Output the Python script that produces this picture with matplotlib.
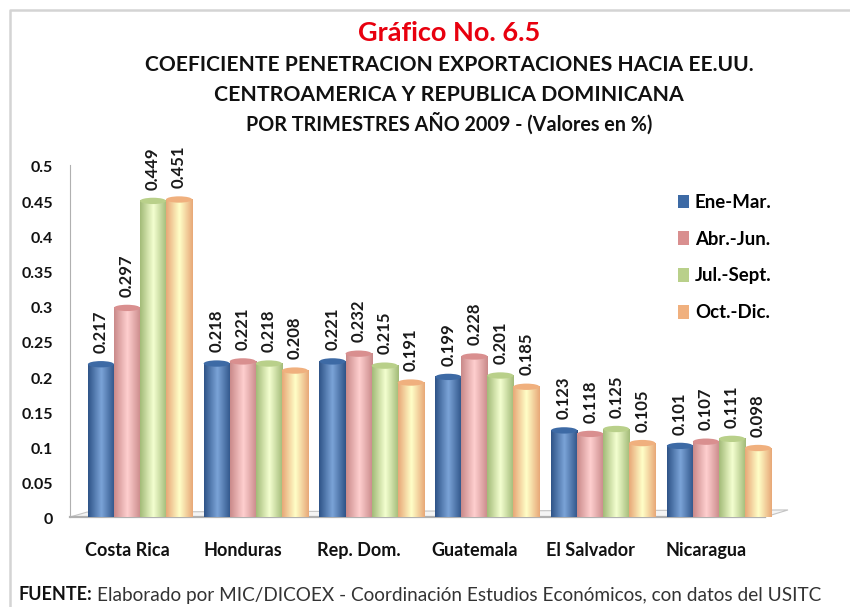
import numpy as np
import matplotlib
matplotlib.use("Agg")
import matplotlib.pyplot as plt
from matplotlib.colors import LinearSegmentedColormap
from matplotlib.lines import Line2D
from matplotlib.patches import Ellipse, Polygon, Rectangle
from matplotlib.transforms import ScaledTranslation

plt.rcParams['font.family'] = ['Lato', 'DejaVu Sans']

# === Datos ===
paises = ["Costa Rica", "Honduras", "Rep. Dom.", "Guatemala", "El Salvador", "Nicaragua"]
trimestres = ["Ene-Mar.", "Abr.-Jun.", "Jul.-Sept.", "Oct.-Dic."]
ene_mar = [0.217, 0.218, 0.221, 0.199, 0.123, 0.101]
abr_jun = [0.297, 0.221, 0.232, 0.228, 0.118, 0.107]
jul_sep = [0.449, 0.218, 0.215, 0.201, 0.125, 0.111]
oct_dic = [0.451, 0.208, 0.191, 0.185, 0.105, 0.098]
yticks = [0, 0.05, 0.1, 0.15, 0.2, 0.25, 0.3, 0.35, 0.4, 0.45, 0.5]
ytick_labels = ["0", "0.05", "0.1", "0.15", "0.2", "0.25", "0.3", "0.35", "0.4", "0.45", "0.5"]

series = [ene_mar, abr_jun, jul_sep, oct_dic]
# borde, centro, borde, tapa
colores = [
    ("#2f5488", "#7ba4d8", "#2f5488", "#3d6aa5"),
    ("#c98a8a", "#ffcfcf", "#c98a8a", "#d98f8f"),
    ("#a3bb78", "#f4ffd0", "#a3bb78", "#b9d08a"),
    ("#e8a878", "#ffffc8", "#e8a878", "#f0b07e"),
]

W, H = 850, 607
fig = plt.figure(figsize=(W / 100, H / 100), dpi=100)
fig.patch.set_facecolor("white")

# marco gris: solo arriba y a la izquierda
fig.add_artist(Line2D([10 / W, 10 / W, 1], [0, 1 - 10 / H, 1 - 10 / H], transform=fig.transFigure,
                      color="#d4d4d4", lw=1.8))

ax = fig.add_axes([70 / W, 1 - 517 / H, 718 / W, 352 / H])
ax.patch.set_alpha(0)
for s in ["top", "right", "bottom"]:
    ax.spines[s].set_visible(False)
ax.spines["left"].set_color("#b0b0b0")

# piso en perspectiva
ax.add_patch(Polygon([(-0.6045, 0), (-0.457, 0.007), (5.596, 0.010), (5.397, 0)],
                     closed=True, fc="#f4f4f4", ec="#c4c4c4", lw=0.8, clip_on=False, zorder=1))
ax.plot([-0.6045, 5.397], [0, 0], color="#b0b0b0", lw=1.6, clip_on=False, zorder=2)

ancho = 0.225
grad = np.linspace(0, 1, 64).reshape(1, -1)
for j, vals in enumerate(series):
    cmap = LinearSegmentedColormap.from_list("c%d" % j, colores[j][:3])
    for i, v in enumerate(vals):
        x0 = i + (j - 2) * ancho
        ax.imshow(grad, extent=(x0, x0 + ancho, 0, v), cmap=cmap, aspect="auto", zorder=3 + j)
        ax.add_patch(Ellipse((x0 + ancho / 2, v), ancho, 0.009, fc=colores[j][3], ec="none", zorder=3 + j))
        ax.text(x0 + ancho / 2, v + 0.016, "%.3f" % v, rotation=90, ha="center", va="bottom",
                fontsize=12, fontweight="bold", color="#1a1a1a", zorder=10)

ax.set_xlim(-0.6045, 5.596)
ax.set_ylim(0, 0.5)
ax.set_xticks(range(len(paises)))
ax.set_xticklabels(paises, fontsize=13, fontweight="bold", color="#111111")
ax.set_yticks(yticks)
ax.set_yticklabels(ytick_labels, fontsize=11.5, fontweight="bold", color="#111111")
ax.tick_params(axis="both", length=0)
ax.tick_params(axis="x", pad=18)
ax.tick_params(axis="y", pad=12)

# las etiquetas del eje van corridas respecto a las barras
for lab in ax.get_xticklabels():
    lab.set_transform(lab.get_transform() + ScaledTranslation(-13 / 100, 0, fig.dpi_scale_trans))
for lab in ax.get_yticklabels():
    lab.set_transform(lab.get_transform() + ScaledTranslation(0, -2 / 100, fig.dpi_scale_trans))

# leyenda
handles = []
for j, t in enumerate(trimestres):
    handles.append(Rectangle((0, 0), 1, 1, fc=colores[j][3], ec="none", label=t))
fig.legend(handles=handles, loc="upper left", bbox_to_anchor=(678 / W, 1 - 194 / H), frameon=False,
           prop={"size": 13.4, "weight": "bold"}, labelspacing=1.06, handlelength=0.6, handleheight=0.75,
           handletextpad=0.3, borderpad=0, borderaxespad=0)

# titulos
fig.text(449 / W, 1 - 33 / H, "Gráfico No. 6.5", color="#e8000e", fontsize=19.5, fontweight="bold",
         ha="center", va="center")
fig.text(449 / W, 1 - 65 / H, "COEFICIENTE PENETRACION EXPORTACIONES HACIA EE.UU.", color="#111111",
         fontsize=15.1, fontweight="bold", ha="center", va="center")
fig.text(449 / W, 1 - 95 / H, "CENTROAMERICA Y REPUBLICA DOMINICANA", color="#111111",
         fontsize=15.3, fontweight="bold", ha="center", va="center")
fig.text(449 / W, 1 - 124 / H, "POR TRIMESTRES AÑO 2009 - (Valores en %)", color="#111111",
         fontsize=14.2, fontweight="bold", ha="center", va="center")

# fuente
fig.text(19 / W, 1 - 595 / H, "FUENTE:", fontsize=13, fontweight="bold", color="#111111", va="center")
fig.text(97 / W, 1 - 595 / H, "Elaborado por MIC/DICOEX - Coordinación Estudios Económicos, con datos del USITC",
         fontsize=13.65, color="#333333", va="center")

fig.savefig("out.png", dpi=100)
